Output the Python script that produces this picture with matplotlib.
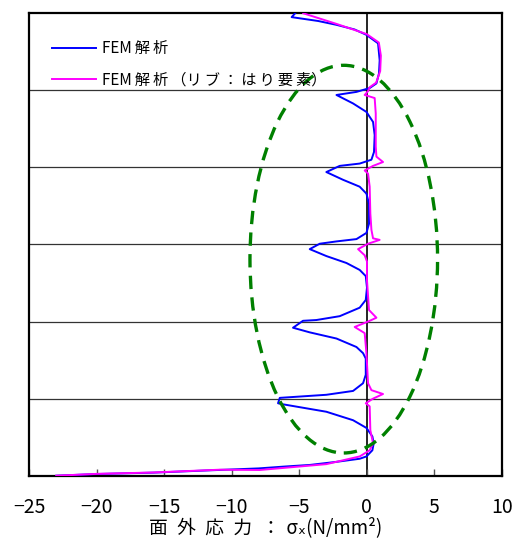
import numpy as np
import matplotlib
matplotlib.use("Agg")
import matplotlib.pyplot as plt
from matplotlib.patches import Ellipse

plt.rcParams['font.family'] = ['Noto Sans CJK JP', 'DejaVu Sans']

# ---- data (stress sigma_x [N/mm2] vs. height position, 6 panels between ribs) ----
blue_x = [-5.3, -5.56, -3.6, -2.24, -0.9, -0.02, 0.84, 0.96, 0.91, 0.72, 0.22, -0.76, -2.24, -1.01, -0.02, 0.47, 0.59,
          0.54, 0.35, -0.52, -2.0, -2.99, -1.76, -0.52, -0.02, 0.17, 0.17, -0.02, -0.76, -2.24, -3.48,
          -4.22, -2.99, -1.5, -0.52, -0.07, 0.02, -0.07, -0.52, -2.0, -3.73, -4.72, -5.46, -4.22, -2.24,
          -0.76, -0.27, -0.07, -0.07, -0.27, -1.01, -2.99, -6.44, -6.57, -6.32, -2.99, -1.01, -0.02, 0.42,
          0.52, 0.42, -0.02, -0.52, -2.24, -4.2, -6.0, -8.0, -10.9, -15.8, -20.0, -23.0]
blue_y = [6.0, 5.95, 5.9, 5.85, 5.79, 5.72, 5.61, 5.39, 5.22, 5.09, 5.03, 4.98, 4.94, 4.83, 4.72, 4.59, 4.42,
          4.20, 4.10, 4.05, 4.02, 3.94, 3.84, 3.75, 3.66, 3.53, 3.27, 3.15, 3.07, 3.04, 3.01,
          2.94, 2.85, 2.76, 2.67, 2.59, 2.44, 2.28, 2.18, 2.07, 2.02, 2.01, 1.92, 1.86, 1.78,
          1.67, 1.59, 1.52, 1.31, 1.20, 1.10, 1.05, 1.01, 0.94, 0.93, 0.83, 0.72, 0.62, 0.51,
          0.42, 0.33, 0.25, 0.22, 0.18, 0.14, 0.12, 0.095, 0.075, 0.04, 0.022, 0.0]

pink_x = [-4.7, -2.2, 0.0, 0.9, 1.05, 1.0, 0.7, 0.22, 0.1, -0.15, 0.22, 0.59, 0.67, 0.67, 0.72, 1.21,
          0.47, -0.15, 0.1, 0.22, 0.27, 0.35, 0.47, 0.96, 0.1, -0.64, -0.15, 0.02, 0.02, 0.17, 0.72,
          0.1, -0.89, -0.15, -0.02, 0.1, 0.35, 1.21, 0.47, -0.07, 0.22, 0.27, 0.47, 0.22, -0.52, -2.99,
          -7.93, -10.9, -15.8, -20.0, -23.0]
pink_y = [6.0, 5.86, 5.73, 5.62, 5.45, 5.25, 5.1, 5.04, 4.99, 4.94, 4.92, 4.90, 4.70, 4.27, 4.14, 4.07,
          4.02, 3.96, 3.92, 3.75, 3.40, 3.19, 3.08, 3.06, 3.01, 2.94, 2.86, 2.78, 2.54, 2.15, 2.05,
          2.0, 1.93, 1.85, 1.59, 1.2, 1.11, 1.06, 1.0, 0.94, 0.9, 0.59, 0.42, 0.33, 0.25, 0.15,
          0.074, 0.078, 0.042, 0.024, 0.0]

rib_levels = [1, 2, 3, 4, 5]
x_ticks = [-25, -20, -15, -10, -5, 0, 5, 10]
T = '\u2009'
legend_labels = ['FEM' + T + '解' + T + '析',
                 'FEM' + T + '解' + T + '析' + T + '（リ' + T + 'ブ' + T + '：' + T + 'は' + T + 'り' + T + '要' + T + '素）']
x_label = '面\u2002外\u2002応\u2002力\u2002：\u2004σₓ(N/mm²)'

# highlighted region (ellipse): centre, width, height in data units
ell_cx, ell_cy, ell_w, ell_h = -1.70, 2.81, 13.9, 5.03

fig = plt.figure(figsize=(5.14, 5.42), dpi=100)
ax = fig.add_axes([0.057, 0.1223, 0.919, 0.8532])
ax.set_xlim(-25, 10)
ax.set_ylim(0, 6)

for r in rib_levels:
    ax.axhline(r, color='#333333', lw=0.9, zorder=1)
ax.axvline(0, color='black', lw=1.2, zorder=1)

ax.plot(blue_x, blue_y, color='#0000FF', lw=1.4, label=legend_labels[0], zorder=3)
ax.plot(pink_x, pink_y, color='#FF00FF', lw=1.4, label=legend_labels[1], zorder=3)

ell = Ellipse((ell_cx, ell_cy), ell_w, ell_h, fill=False, edgecolor='#008000',
              lw=2.4, linestyle=(0, (4, 2.5)), zorder=4)
ax.add_patch(ell)

ax.set_xticks(x_ticks)
ax.set_xticklabels([str(t).replace('-', '−') for t in x_ticks], fontsize=14)
ax.tick_params(axis='x', direction='in', length=5, width=1, color='#555555', pad=15)
ax.set_yticks([])
for s in ax.spines.values():
    s.set_linewidth(1.6)
    s.set_color('black')

ax.set_xlabel(x_label, fontsize=13.5, labelpad=0)

leg = ax.legend(loc='upper left', bbox_to_anchor=(0.035, 0.955), frameon=False, fontsize=11,
                handlelength=2.9, handletextpad=0.35, labelspacing=0.95, borderaxespad=0)

fig.savefig('out.png', dpi=100)
